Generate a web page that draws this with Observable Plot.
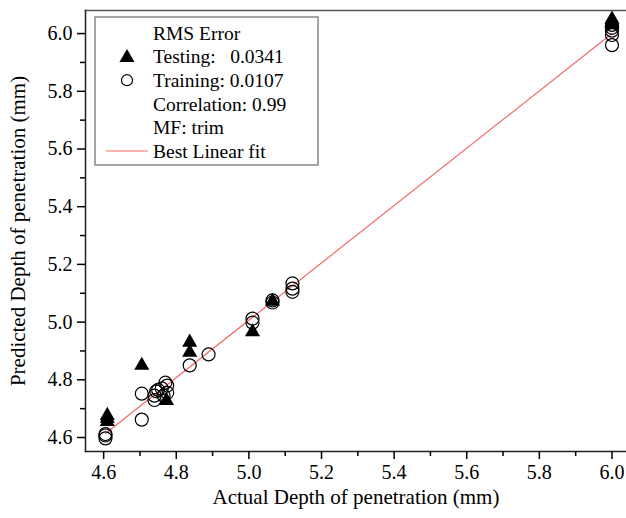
<!DOCTYPE html>
<html>
<head>
<meta charset="utf-8">
<script src="https://cdn.jsdelivr.net/npm/d3@7"></script>
<script src="https://cdn.jsdelivr.net/npm/@observablehq/plot@0.6"></script>
<style>
  body { margin: 0; background: white; }
  #chart { position: relative; width: 626px; height: 518px; }
</style>
</head>
<body>
<div id="chart"></div>
<script>
// Training (open circles)
const trainX = [4.605, 4.605, 4.605, 4.705, 4.705, 4.74, 4.74, 4.745, 4.75, 4.76, 4.77, 4.775, 4.775, 4.765,
                4.837, 4.889, 5.01, 5.01, 5.065, 5.065, 5.12, 5.12, 5.12, 6.0, 6.0, 6.0, 6.0, 6.0];
const trainY = [4.607, 4.597, 4.612, 4.752, 4.662, 4.73, 4.745, 4.76, 4.765, 4.77, 4.79, 4.78, 4.755, 4.745,
                4.85, 4.888, 5.012, 4.998, 5.068, 5.075, 5.134, 5.116, 5.105, 6.03, 6.02, 6.01, 5.995, 5.96];
// Testing (filled triangles)
const testX = [4.61, 4.61, 4.61, 4.705, 4.773, 4.837, 4.837, 5.01, 5.065, 6.0, 6.0, 6.0];
const testY = [4.676, 4.666, 4.655, 4.85, 4.728, 4.93, 4.895, 4.966, 5.072, 6.05, 6.04, 6.03];
// Best linear fit
const fitX = [4.605, 6.0];
const fitY = [4.614, 6.0];
// Ticks
const xTicks = [4.6, 4.8, 5.0, 5.2, 5.4, 5.6, 5.8, 6.0];
const xMinor = [4.7, 4.9, 5.1, 5.3, 5.5, 5.7, 5.9];
const yTicks = [4.6, 4.8, 5.0, 5.2, 5.4, 5.6, 5.8, 6.0];
const yMinor = [4.7, 4.9, 5.1, 5.3, 5.5, 5.7, 5.9];
// Legend texts
const legendLines = ["RMS Error", "Testing:   0.0341", "Training: 0.0107", "Correlation: 0.99", "MF: trim", "Best Linear fit"];

const train = trainX.map((x, i) => ({x, y: trainY[i]}));
const test = testX.map((x, i) => ({x, y: testY[i]}));
const fit = fitX.map((x, i) => ({x, y: fitY[i]}));
const fmt = d3.format(".1f");
const serif = "'Liberation Serif', 'Times New Roman', serif";

const plot = Plot.plot({
  width: 626,
  height: 518,
  marginLeft: 85,
  marginTop: 10,
  marginBottom: 67,
  marginRight: 0,
  x: {domain: [4.55, 6.04]},
  y: {domain: [4.5515, 6.08]},
  style: {fontFamily: serif, fontSize: "20px", color: "black", background: "white", overflow: "visible"},
  marks: [
    Plot.frame({anchor: "top", stroke: "#555", strokeWidth: 1.5}),
    Plot.frame({anchor: "left", stroke: "#222", strokeWidth: 1.5}),
    Plot.frame({anchor: "bottom", stroke: "#222", strokeWidth: 1.5}),
    Plot.axisX({ticks: xTicks, tickSize: 8, tickPadding: 5, tickFormat: fmt, strokeWidth: 1.5, fontSize: 20,
                label: null}),
    Plot.axisX({ticks: [], label: "Actual Depth of penetration (mm)", labelAnchor: "center", labelArrow: "none",
                labelOffset: 52, fontSize: 21}),
    Plot.axisX({ticks: xMinor, tickSize: 5, tickFormat: () => "", label: null, strokeWidth: 1.5}),
    Plot.axisY({ticks: yTicks, tickSize: 8, tickPadding: 5, tickFormat: fmt, strokeWidth: 1.5, fontSize: 20,
                label: null}),
    Plot.axisY({ticks: [], label: "Predicted Depth of penetration (mm)", labelAnchor: "center", labelArrow: "none",
                labelOffset: 75, fontSize: 21}),
    Plot.axisY({ticks: yMinor, tickSize: 5, tickFormat: () => "", label: null, strokeWidth: 1.5}),
    Plot.line(fit, {x: "x", y: "y", stroke: "#f46b6b", strokeWidth: 1.2}),
    Plot.dot(test, {x: "x", y: "y", symbol: "triangle", r: 5.6, fill: "black", stroke: "none"}),
    Plot.dot(train, {x: "x", y: "y", r: 6.5, fill: "none", stroke: "black", strokeWidth: 1.2})
  ]
});
document.getElementById("chart").appendChild(plot);

// Legend box inside plot area
const svg = d3.select(plot);
const g = svg.append("g").attr("font-family", serif).attr("font-size", 19.5).attr("text-anchor", "start");
g.append("rect").attr("x", 95).attr("y", 17).attr("width", 223).attr("height", 148)
  .attr("fill", "white").attr("stroke", "#888").attr("stroke-width", 1.5);
const ly0 = 33, ldy = 23.6;
legendLines.forEach((t, i) => {
  g.append("text").attr("x", 153).attr("y", ly0 + i * ldy).attr("dy", "0.35em")
    .attr("fill", "black").style("white-space", "pre").attr("xml:space", "preserve").text(t);
});
g.append("path").attr("d", d3.symbol(d3.symbolTriangle, 5.6 * 5.6 * Math.PI)())
  .attr("transform", `translate(127,${ly0 + ldy + 1})`).attr("fill", "black");
g.append("circle").attr("cx", 127).attr("cy", ly0 + 2 * ldy).attr("r", 5.5)
  .attr("fill", "none").attr("stroke", "black").attr("stroke-width", 1.2);
g.append("line").attr("x1", 106).attr("x2", 148).attr("y1", ly0 + 5 * ldy).attr("y2", ly0 + 5 * ldy)
  .attr("stroke", "#f46b6b").attr("stroke-width", 1.2);
</script>
</body>
</html>
